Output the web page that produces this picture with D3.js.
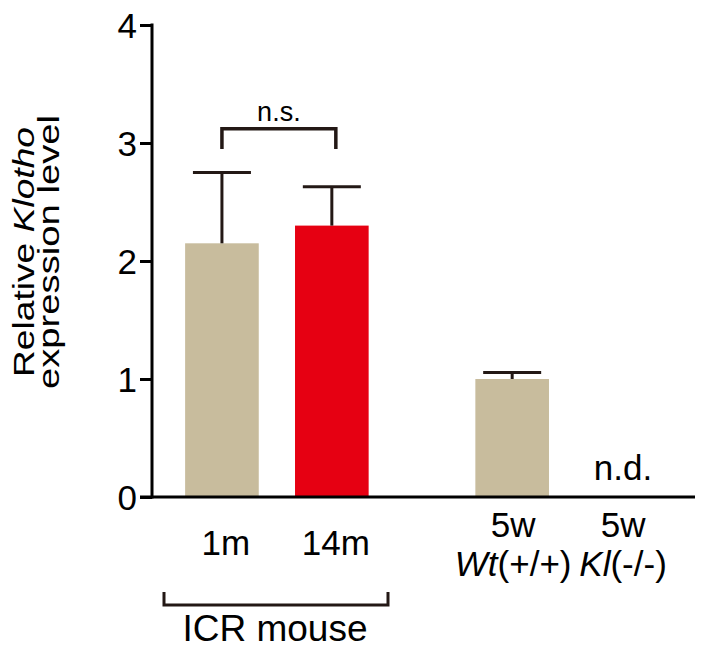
<!DOCTYPE html>
<html>
<head>
<meta charset="utf-8">
<script src="https://cdn.jsdelivr.net/npm/d3@7"></script>
<style>
  html, body { margin: 0; padding: 0; background: #fff; }
  svg { display: block; }
  text { font-family: "Liberation Sans", Arial, Helvetica, sans-serif; fill: #000; }
</style>
</head>
<body>
<div id="chart"></div>
<script>
// ---- data ----
const groups = ["ICR", "KO"];
const categories = ["1m", "14m", "Wt", "Kl"];
const categoryGroup = ["ICR", "ICR", "KO", "KO"];
const categoryIndex = [0, 1, 0, 1];
const labelTop = ["", "", "5w", "5w"];
const labelMain = [
  [{t: "1m", i: false}],
  [{t: "14m", i: false}],
  [{t: "Wt", i: true}, {t: "(+/+)", i: false}],
  [{t: "Kl", i: true}, {t: "(-/-)", i: false}]
];
const means = [2.15, 2.30, 1.00, 0];
const errors = [0.60, 0.33, 0.055, 0];
const barColors = ["#c8bc9d", "#e60012", "#c8bc9d", "#c8bc9d"];
const notDetected = [false, false, false, true];
const yTicks = [0, 1, 2, 3, 4];
const sigPair = ["1m", "14m"];
const sigLabel = "n.s.";
const sigLevel = [3.12, 2.95];
const groupLabel = "ICR mouse";

// ---- layout ----
const W = 705, H = 653;
const axisX = 152, axisTop = 25, axisBottom = 497;
const ink = "#231815";

const svg = d3.select("#chart").append("svg").attr("width", W).attr("height", H);

const y = d3.scaleLinear().domain([0, 4]).range([axisBottom, axisTop]);

const x0 = d3.scaleBand().domain(groups).range([axisX, 690])
  .paddingInner(0.2427).paddingOuter(0.0482);
const x1 = d3.scaleBand().domain([0, 1]).range([0, x0.bandwidth()])
  .paddingInner(0.33).paddingOuter(0.165);
const bx = i => x0(categoryGroup[i]) + x1(categoryIndex[i]);
const cx = i => bx(i) + x1.bandwidth() / 2;

// bars
svg.append("g").selectAll("rect").data(means).join("rect")
  .attr("x", (d, i) => bx(i) + 1)
  .attr("width", x1.bandwidth())
  .attr("y", d => y(d))
  .attr("height", d => y(0) - y(d))
  .attr("fill", (d, i) => barColors[i]);

// error bars (upper only)
const capW = 58;
const eg = svg.append("g").attr("stroke", ink).attr("stroke-width", 3).attr("fill", "none");
means.forEach((m, i) => {
  if (notDetected[i]) return;
  const c = cx(i) + 1;
  eg.append("line").attr("x1", c).attr("x2", c).attr("y1", y(m)).attr("y2", y(m + errors[i]));
  eg.append("line").attr("x1", c - capW / 2).attr("x2", c + capW / 2)
    .attr("y1", y(m + errors[i])).attr("y2", y(m + errors[i]));
});

// n.d.
means.forEach((m, i) => {
  if (!notDetected[i]) return;
  svg.append("text").attr("x", cx(i) + 2).attr("y", 480).attr("text-anchor", "middle")
    .attr("font-size", 35).text("n.d.");
});

// significance bracket
const i1 = categories.indexOf(sigPair[0]), i2 = categories.indexOf(sigPair[1]);
svg.append("path")
  .attr("d", `M${cx(i1) + 1},${y(sigLevel[1])}V${y(sigLevel[0])}H${cx(i2) + 5}V${y(sigLevel[1])}`)
  .attr("stroke", ink).attr("stroke-width", 3.5).attr("fill", "none");
svg.append("text").attr("x", (cx(i1) + cx(i2)) / 2 + 3).attr("y", y(sigLevel[0]) - 8)
  .attr("text-anchor", "middle").attr("font-size", 27).text(sigLabel);

// y axis
const yAxis = d3.axisLeft(y).tickValues(yTicks).tickSize(12).tickPadding(3).tickFormat(d3.format("d"));
const ya = svg.append("g").attr("transform", `translate(${axisX},0)`).call(yAxis);
ya.select(".domain").remove();
ya.selectAll(".tick line").attr("stroke", "#000").attr("stroke-width", 3);
ya.selectAll(".tick text").attr("font-size", 35).attr("font-family", "Liberation Sans, Arial, sans-serif")
  .attr("fill", "#000").attr("dy", "0.36em");
svg.append("line").attr("x1", axisX).attr("x2", axisX).attr("y1", axisTop - 1.5).attr("y2", axisBottom + 1.5)
  .attr("stroke", "#000").attr("stroke-width", 3);

// x axis line
svg.append("line").attr("x1", axisX - 12).attr("x2", 695).attr("y1", axisBottom).attr("y2", axisBottom)
  .attr("stroke", "#000").attr("stroke-width", 3);

// category labels
categories.forEach((c, i) => {
  if (labelTop[i]) {
    svg.append("text").attr("x", cx(i) + 2).attr("y", 537).attr("text-anchor", "middle")
      .attr("font-size", 35).text(labelTop[i]);
    const t = svg.append("text").attr("x", cx(i) + 2).attr("y", 576).attr("text-anchor", "middle")
      .attr("font-size", 35);
    labelMain[i].forEach(p => t.append("tspan").attr("font-style", p.i ? "italic" : "normal").text(p.t));
  } else {
    const t = svg.append("text").attr("x", cx(i) + 5).attr("y", 555).attr("text-anchor", "middle")
      .attr("font-size", 35);
    labelMain[i].forEach(p => t.append("tspan").text(p.t));
  }
});

// group bracket
const gL = 164, gR = 388;
svg.append("path").attr("d", `M${gL},592V605H${gR}V592`)
  .attr("stroke", ink).attr("stroke-width", 3).attr("fill", "none");
svg.append("text").attr("x", (gL + gR) / 2 - 1).attr("y", 641).attr("text-anchor", "middle")
  .attr("font-size", 37).text(groupLabel);

// y title
const yt = svg.append("text").attr("transform", `translate(34,252) rotate(-90)`)
  .attr("text-anchor", "middle").attr("font-size", 29)
  .attr("textLength", 250).attr("lengthAdjust", "spacingAndGlyphs");
yt.append("tspan").text("Relative ");
yt.append("tspan").attr("font-style", "italic").text("Klotho");
svg.append("text").attr("transform", `translate(59,252) rotate(-90)`)
  .attr("text-anchor", "middle").attr("font-size", 29)
  .attr("textLength", 274).attr("lengthAdjust", "spacingAndGlyphs").text("expression level");
</script>
</body>
</html>
